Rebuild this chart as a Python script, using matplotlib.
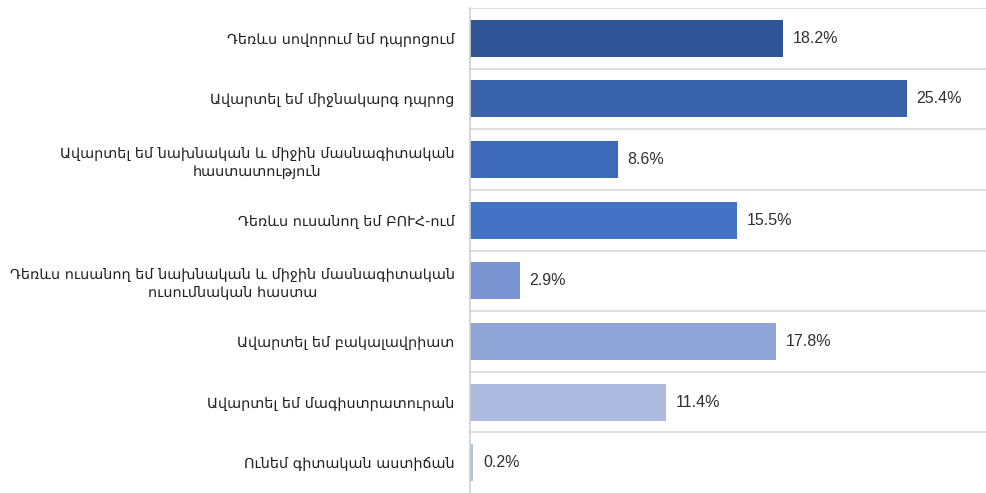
import matplotlib.pyplot as plt

categories = [
    "Դեռևս սովորում եմ դպրոցում",
    "Ավարտել եմ միջնակարգ դպրոց",
    "Ավարտել եմ նախնական և միջին մասնագիտական\nհաստատություն",
    "Դեռևս ուսանող եմ ԲՈՒՀ-ում",
    "Դեռևս ուսանող եմ նախնական և միջին մասնագիտական\nուսումնական հաստա",
    "Ավարտել եմ բակալավրիատ",
    "Ավարտել եմ մագիստրատուրան",
    "Ունեմ գիտական աստիճան",
]
shares = [18.2, 25.4, 8.6, 15.5, 2.9, 17.8, 11.4, 0.2]
bar_colors = ["#2F5597", "#3862A9", "#3D69BA", "#4472C4",
              "#7B93D0", "#8EA4D7", "#ADBBE0", "#B2C1E6"]

label_font = ["DejaVu Sans", "Noto Sans"]

fig = plt.figure(figsize=(9.86, 4.93), dpi=100)
ax = fig.add_axes([470 / 986, 0.0, 516 / 986, 485 / 493])

ypos = list(range(len(categories)))
ax.barh(ypos, shares, height=0.61, color=bar_colors, zorder=2)

ax.set_xlim(0, 30)
ax.set_ylim(len(categories) - 0.5, -0.5)

# separators between categories
for k in range(len(categories)):
    ax.axhline(k - 0.5, color="#d9d9d9", linewidth=1.2, zorder=1)

for s in ["top", "right", "bottom"]:
    ax.spines[s].set_visible(False)
ax.spines["left"].set_color("#d0d0d0")
ax.spines["left"].set_linewidth(1.2)

ax.set_xticks([])
ax.set_yticks(ypos)
ax.set_yticklabels(categories, family=label_font, fontsize=10.4,
                   color="#202020", multialignment="center", linespacing=1.35)
ax.tick_params(axis="y", length=0, pad=11)

for y, v in zip(ypos, shares):
    ax.annotate(f"{v}%", (v, y), xytext=(7, 0), textcoords="offset points",
                va="center", ha="left", fontsize=11.5,
                family=["Liberation Sans", "DejaVu Sans"], color="#303030")

fig.savefig("out.png", dpi=100)
